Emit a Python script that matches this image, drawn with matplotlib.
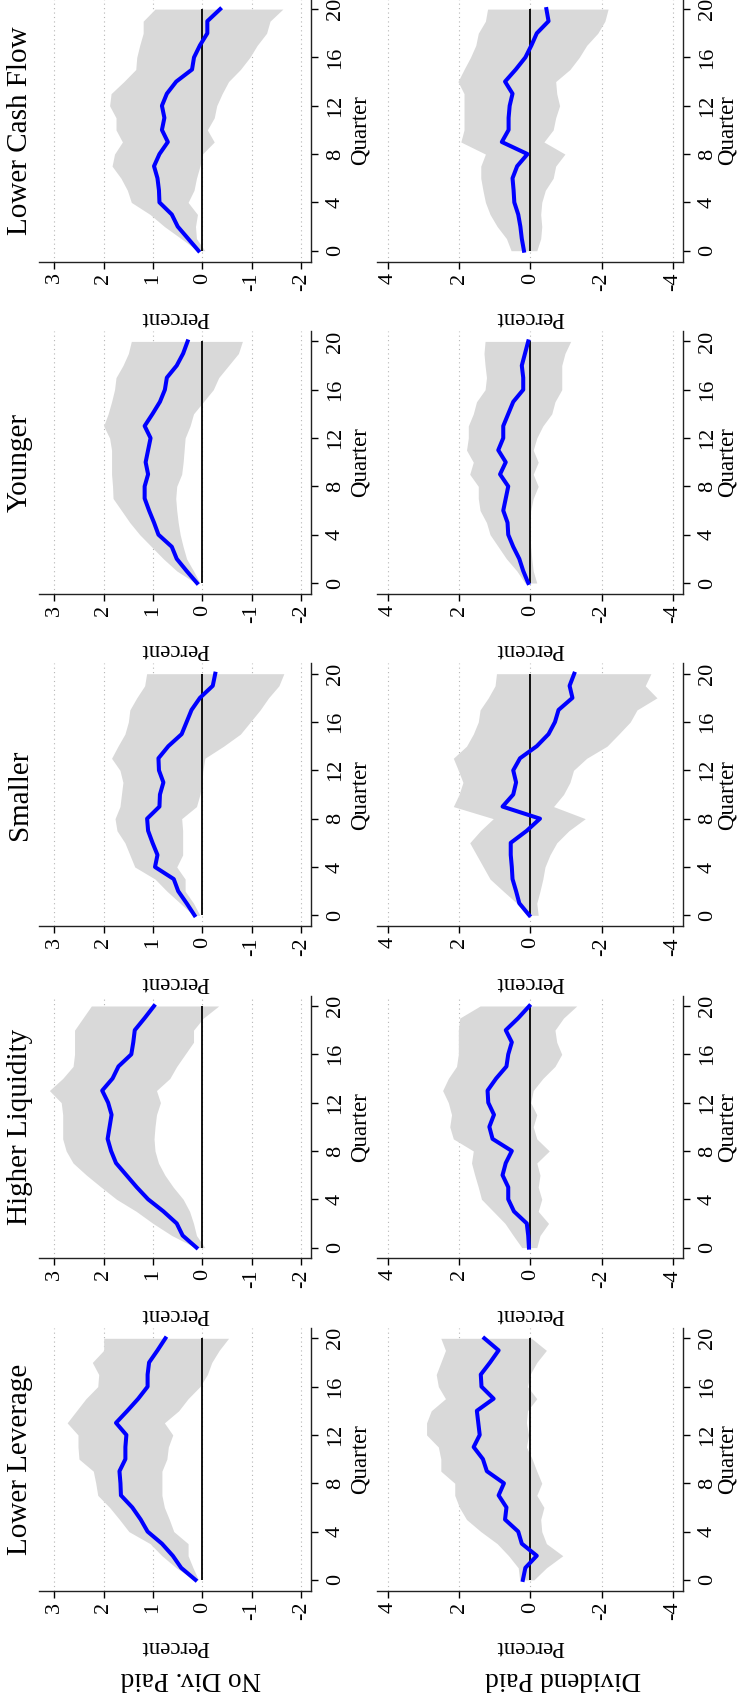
import matplotlib
matplotlib.use("Agg")
import matplotlib.pyplot as plt

# Fonts: serif like the Stata original, plain hyphen for negative ticks
plt.rcParams["font.family"] = ["Liberation Serif", "DejaVu Serif"]
plt.rcParams["axes.unicode_minus"] = False

# ---- data ----
quarters = [0, 1, 2, 3, 4, 5, 6, 7, 8, 9, 10, 11, 12, 13, 14, 15, 16, 17, 18, 19, 20]
quarter_ticks = [0, 4, 8, 12, 16, 20]
nodiv_ticks = [3, 2, 1, 0, -1, -2]
div_ticks = [4, 2, 0, -2, -4]

# panel order from top of the page to bottom
panel_titles = ["Lower Cash Flow", "Younger", "Smaller", "Higher Liquidity", "Lower Leverage"]
row_labels = ["No Div. Paid", "Dividend Paid"]

# Lower Cash Flow
cash_nodiv_irf = [0.08, 0.29, 0.50, 0.62, 0.87, 0.88, 0.91, 0.98, 0.87, 0.70, 0.82,
                  0.77, 0.82, 0.72, 0.53, 0.21, 0.17, 0.05, -0.10, -0.10, -0.36]
cash_nodiv_hi = [0.10, 0.43, 0.77, 1.06, 1.44, 1.52, 1.65, 1.83, 1.78, 1.62, 1.75,
                 1.75, 1.88, 1.85, 1.59, 1.35, 1.33, 1.27, 1.20, 1.20, 0.96]
cash_nodiv_lo = [-0.05, 0.12, 0.14, 0.10, 0.29, 0.17, 0.12, 0.05, 0.00, -0.24, -0.10,
                 -0.24, -0.29, -0.40, -0.53, -0.77, -0.96, -1.11, -1.30, -1.37, -1.63]
cash_div_irf = [0.18, 0.24, 0.28, 0.34, 0.45, 0.47, 0.50, 0.37, 0.08, 0.80, 0.61,
                0.61, 0.58, 0.50, 0.71, 0.41, 0.14, -0.03, -0.18, -0.51, -0.45]
cash_div_hi = [0.54, 0.67, 0.93, 1.13, 1.26, 1.33, 1.39, 1.39, 1.26, 1.95, 1.86,
               1.86, 1.86, 1.86, 2.03, 1.86, 1.68, 1.53, 1.46, 1.26, 1.20]
cash_div_lo = [-0.18, -0.29, -0.32, -0.29, -0.32, -0.42, -0.64, -0.71, -0.97, -0.38, -0.64,
               -0.71, -0.82, -0.74, -0.71, -1.11, -1.37, -1.58, -1.89, -2.09, -2.18]

# Younger
young_nodiv_irf = [0.11, 0.32, 0.52, 0.62, 0.89, 0.98, 1.08, 1.17, 1.17, 1.10, 1.15,
                   1.10, 1.05, 1.17, 1.01, 0.86, 0.76, 0.72, 0.52, 0.39, 0.30]
young_nodiv_hi = [0.14, 0.52, 0.79, 1.03, 1.27, 1.47, 1.64, 1.81, 1.82, 1.84, 1.84,
                  1.84, 1.88, 2.00, 1.91, 1.84, 1.78, 1.75, 1.61, 1.50, 1.44]
young_nodiv_lo = [0.05, 0.18, 0.32, 0.39, 0.45, 0.49, 0.52, 0.54, 0.52, 0.42, 0.39,
                  0.37, 0.35, 0.25, 0.18, -0.02, -0.22, -0.33, -0.53, -0.73, -0.81]
young_div_irf = [0.06, 0.20, 0.31, 0.48, 0.62, 0.64, 0.76, 0.69, 0.62, 0.85, 0.69,
                 0.90, 0.76, 0.76, 0.62, 0.48, 0.20, 0.20, 0.24, 0.15, 0.06]
young_div_hi = [0.15, 0.38, 0.67, 0.90, 1.13, 1.23, 1.41, 1.46, 1.46, 1.70, 1.60,
                1.79, 1.74, 1.74, 1.60, 1.51, 1.27, 1.23, 1.27, 1.30, 1.27]
young_div_lo = [-0.18, -0.08, -0.04, -0.01, 0.01, 0.01, -0.01, -0.08, -0.22, -0.08, -0.22,
                -0.08, -0.18, -0.35, -0.60, -0.69, -0.88, -0.88, -0.88, -0.97, -1.13]

# Smaller
small_nodiv_irf = [0.16, 0.32, 0.49, 0.58, 0.96, 0.91, 1.01, 1.10, 1.12, 0.87, 0.86,
                   0.79, 0.88, 0.89, 0.69, 0.42, 0.32, 0.22, 0.05, -0.21, -0.26]
small_nodiv_hi = [0.18, 0.45, 0.72, 0.96, 1.37, 1.47, 1.57, 1.73, 1.77, 1.67, 1.64,
                  1.61, 1.67, 1.84, 1.71, 1.57, 1.50, 1.47, 1.33, 1.17, 1.13]
small_nodiv_lo = [0.05, 0.18, 0.35, 0.35, 0.52, 0.40, 0.40, 0.40, 0.42, 0.12, 0.05,
                  0.01, -0.01, -0.05, -0.43, -0.77, -0.97, -1.17, -1.34, -1.55, -1.65]
small_div_irf = [0.03, 0.31, 0.40, 0.50, 0.52, 0.55, 0.55, 0.10, -0.27, 0.78, 0.48,
                 0.40, 0.48, 0.29, -0.18, -0.51, -0.69, -0.79, -1.18, -1.10, -1.23]
small_div_hi = [0.10, 0.38, 0.76, 1.13, 1.32, 1.51, 1.70, 1.40, 1.04, 2.16, 2.00,
                1.89, 2.02, 2.16, 1.79, 1.60, 1.46, 1.41, 1.18, 0.99, 0.95]
small_div_lo = [-0.22, -0.18, -0.27, -0.35, -0.41, -0.55, -0.74, -1.08, -1.54, -0.65, -0.93,
                -1.11, -1.21, -1.58, -2.15, -2.48, -2.80, -2.99, -3.55, -3.22, -3.38]

# Higher Liquidity
liq_nodiv_irf = [0.12, 0.40, 0.52, 0.79, 1.10, 1.33, 1.54, 1.75, 1.85, 1.92, 1.88,
                 1.84, 1.91, 2.03, 1.82, 1.70, 1.44, 1.40, 1.37, 1.17, 0.98]
liq_nodiv_hi = [0.14, 0.62, 1.00, 1.34, 1.74, 2.05, 2.35, 2.62, 2.76, 2.83, 2.83,
                2.83, 2.86, 3.10, 2.83, 2.62, 2.59, 2.59, 2.59, 2.42, 2.25]
liq_nodiv_lo = [-0.05, 0.12, 0.18, 0.26, 0.39, 0.59, 0.76, 0.89, 0.96, 0.98, 0.96,
                0.93, 0.85, 0.93, 0.66, 0.52, 0.35, 0.18, 0.18, -0.02, -0.33]
liq_div_irf = [0.04, 0.06, 0.10, 0.46, 0.62, 0.62, 0.78, 0.69, 0.52, 1.06, 1.15,
               1.02, 1.18, 1.20, 0.96, 0.67, 0.62, 0.52, 0.69, 0.34, 0.03]
liq_div_hi = [0.24, 0.48, 0.71, 1.04, 1.37, 1.46, 1.56, 1.65, 1.60, 2.16, 2.26,
              2.21, 2.30, 2.46, 2.30, 2.07, 2.02, 2.02, 2.02, 1.98, 1.41]
liq_div_lo = [-0.18, -0.27, -0.51, -0.22, -0.32, -0.22, -0.27, -0.18, -0.53, -0.18, -0.08,
              -0.18, -0.01, -0.08, -0.35, -0.69, -0.88, -0.74, -0.69, -0.93, -1.30]

# Lower Leverage
lev_nodiv_irf = [0.14, 0.43, 0.60, 0.82, 1.11, 1.25, 1.42, 1.65, 1.66, 1.68, 1.56,
                 1.56, 1.54, 1.75, 1.52, 1.30, 1.11, 1.11, 1.08, 0.91, 0.75]
lev_nodiv_hi = [0.16, 0.53, 0.82, 1.06, 1.49, 1.68, 1.88, 2.12, 2.16, 2.21, 2.50,
                2.52, 2.52, 2.74, 2.55, 2.36, 2.12, 2.10, 2.23, 2.00, 2.00]
lev_nodiv_lo = [0.08, 0.19, 0.29, 0.29, 0.58, 0.67, 0.77, 0.82, 0.82, 0.82, 0.72,
                0.69, 0.60, 0.77, 0.48, 0.29, 0.05, -0.10, -0.19, -0.34, -0.53]
lev_div_irf = [0.21, 0.14, -0.18, 0.24, 0.34, 0.71, 0.67, 0.89, 0.74, 1.22, 1.33,
               1.59, 1.42, 1.46, 1.50, 1.03, 1.37, 1.39, 1.13, 0.89, 1.29]
lev_div_hi = [0.30, 0.34, 0.61, 0.93, 1.39, 1.79, 1.99, 2.12, 2.12, 2.51, 2.51,
              2.58, 2.91, 2.91, 2.78, 2.38, 2.58, 2.64, 2.51, 2.38, 2.51]
lev_div_lo = [-0.10, -0.45, -0.91, -0.45, -0.32, -0.29, -0.38, -0.18, -0.32, -0.18, -0.05,
              0.11, 0.05, 0.11, 0.08, -0.18, 0.08, 0.01, -0.18, -0.45, -0.03]

nodiv_series = [
    (cash_nodiv_irf, cash_nodiv_lo, cash_nodiv_hi),
    (young_nodiv_irf, young_nodiv_lo, young_nodiv_hi),
    (small_nodiv_irf, small_nodiv_lo, small_nodiv_hi),
    (liq_nodiv_irf, liq_nodiv_lo, liq_nodiv_hi),
    (lev_nodiv_irf, lev_nodiv_lo, lev_nodiv_hi),
]
div_series = [
    (cash_div_irf, cash_div_lo, cash_div_hi),
    (young_div_irf, young_div_lo, young_div_hi),
    (small_div_irf, small_div_lo, small_div_hi),
    (liq_div_irf, liq_div_lo, liq_div_hi),
    (lev_div_irf, lev_div_lo, lev_div_hi),
]

# ---- layout (pixels, the page is the Stata graph turned on its side) ----
FIG_W, FIG_H = 739, 1700
COLS = [(39, 311), (377, 683)]          # left/right edge of each column of axes
VLIMS = [(3.31, -2.2), (4.3, -4.28)]    # value axis reversed: positive to the left
TICKS = [nodiv_ticks, div_ticks]
QLABEL_OFFSET = [49, 44]                # "Quarter" distance from the quarter axis
Q0_TOP, Q_STEP_PANEL, PX_PER_Q = 250.7, 332.3, 12.08
QLIM = (-0.9, 20.85)

BAND = "#d9d9d9"
BLUE = "#0000ff"


def draw_panel(ax, irf, lo, hi, ticks, vlim):
    ax.fill_betweenx(quarters, lo, hi, color=BAND, lw=0, zorder=1)
    ax.vlines(0, quarters[0], quarters[-1], color="black", lw=1.3, zorder=2)
    ax.plot(irf, quarters, color=BLUE, lw=2.9, zorder=3)

    ax.set_xlim(vlim)
    ax.set_ylim(QLIM)
    ax.set_xticks(ticks)
    ax.set_yticks(quarter_ticks)
    ax.set_axisbelow(True)
    ax.grid(axis="x", linestyle=(0, (1, 3)), color="#b5b5b5", lw=0.8)
    ax.grid(axis="y", visible=False)

    for side in ("left", "top"):
        ax.spines[side].set_visible(False)
    for side in ("bottom", "right"):
        ax.spines[side].set_linewidth(1.0)
        ax.spines[side].set_color("#222222")

    ax.yaxis.tick_right()
    ax.tick_params(axis="x", direction="out", length=4.8, width=1.0, pad=3,
                   labelsize=16, labelrotation=90)
    ax.tick_params(axis="y", direction="out", length=4.8, width=1.0, pad=6,
                   labelsize=16, labelrotation=90)
    for lbl in ax.get_yticklabels():
        lbl.set_va("center")


fig = plt.figure(figsize=(FIG_W / 100, FIG_H / 100), dpi=100)

for k, title in enumerate(panel_titles):
    q0_px = Q0_TOP + Q_STEP_PANEL * k
    top_px = q0_px - QLIM[1] * PX_PER_Q
    bot_px = q0_px - QLIM[0] * PX_PER_Q
    for c in range(2):
        x0, x1 = COLS[c]
        ax = fig.add_axes([x0 / FIG_W, 1 - bot_px / FIG_H,
                           (x1 - x0) / FIG_W, (bot_px - top_px) / FIG_H])
        irf, lo, hi = (nodiv_series, div_series)[c][k]
        draw_panel(ax, irf, lo, hi, TICKS[c], VLIMS[c])

        w_px, h_px = x1 - x0, bot_px - top_px
        ax.text(0.5, -56 / h_px, "Percent", transform=ax.transAxes,
                rotation=180, ha="center", va="center", fontsize=16.5)
        ax.text(1 + QLABEL_OFFSET[c] / w_px, 0.5, "Quarter", transform=ax.transAxes,
                rotation=90, ha="center", va="center", fontsize=16.5)
        if c == 0:
            ax.text(-19 / w_px, 0.5, title, transform=ax.transAxes,
                    rotation=90, ha="center", va="center", fontsize=21)

# row labels, upside down under each column
fig.text(191 / FIG_W, 1 - 1678 / FIG_H, row_labels[0], rotation=180,
         ha="center", va="center", fontsize=19.5)
fig.text(563 / FIG_W, 1 - 1678 / FIG_H, row_labels[1], rotation=180,
         ha="center", va="center", fontsize=19.5)

fig.savefig("out.png", dpi=100)
